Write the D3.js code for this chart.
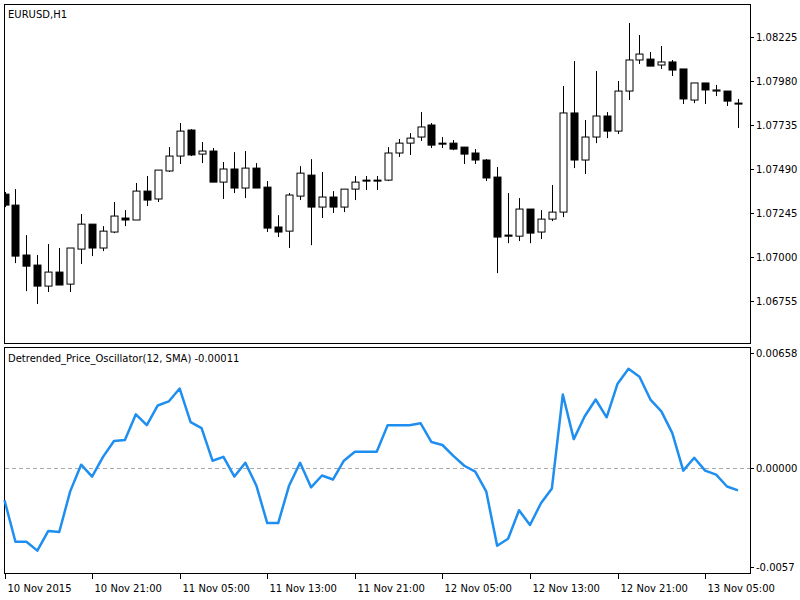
<!DOCTYPE html>
<html>
<head>
<meta charset="utf-8">
<script src="https://cdn.jsdelivr.net/npm/d3@7"></script>
<style>
  body { margin: 0; background: #fff; }
  text { font-family: "DejaVu Sans", sans-serif; font-size: 10px; fill: #000; }
</style>
</head>
<body>
<script>
// EURUSD H1 candles
const opens  = [1.07350,1.07289,1.07011,1.06955,1.06838,1.06916,1.06849,1.07044,1.07183,1.07050,1.07139,1.07217,1.07206,1.07367,1.07323,1.07479,1.07562,1.07707,1.07573,1.07590,1.07417,1.07490,1.07384,1.07495,1.07389,1.07167,1.07144,1.07339,1.07456,1.07278,1.07334,1.07278,1.07378,1.07423,1.07423,1.07428,1.07579,1.07634,1.07668,1.07735,1.07634,1.07634,1.07612,1.07579,1.07540,1.07445,1.07122,1.07116,1.07267,1.07139,1.07211,1.07250,1.07802,1.07540,1.07668,1.07785,1.07701,1.07924,1.08097,1.08102,1.08069,1.08086,1.08047,1.07874,1.07969,1.07924,1.07924,1.07857];
const highs  = [1.07362,1.07378,1.07122,1.07011,1.07072,1.07050,1.07050,1.07239,1.07183,1.07172,1.07306,1.07261,1.07412,1.07451,1.07484,1.07612,1.07746,1.07712,1.07640,1.07607,1.07529,1.07584,1.07590,1.07523,1.07423,1.07233,1.07356,1.07506,1.07545,1.07473,1.07367,1.07378,1.07451,1.07451,1.07451,1.07612,1.07657,1.07690,1.07807,1.07746,1.07668,1.07651,1.07612,1.07601,1.07545,1.07501,1.07356,1.07328,1.07267,1.07261,1.07401,1.07952,1.08091,1.07763,1.08036,1.07807,1.07980,1.08303,1.08236,1.08141,1.08175,1.08097,1.08047,1.07969,1.07969,1.07958,1.07924,1.07880];
const lows   = [1.07278,1.06966,1.06810,1.06738,1.06805,1.06844,1.06805,1.06961,1.07005,1.07033,1.07133,1.07172,1.07206,1.07284,1.07306,1.07473,1.07518,1.07562,1.07523,1.07417,1.07323,1.07356,1.07328,1.07384,1.07139,1.07111,1.07050,1.07317,1.07066,1.07217,1.07245,1.07250,1.07317,1.07373,1.07373,1.07423,1.07557,1.07568,1.07646,1.07607,1.07607,1.07595,1.07518,1.07518,1.07423,1.06910,1.07077,1.07089,1.07077,1.07100,1.07200,1.07222,1.07495,1.07462,1.07634,1.07662,1.07685,1.07874,1.08075,1.08063,1.08047,1.08008,1.07852,1.07857,1.07852,1.07896,1.07841,1.07718];
const closes = [1.07289,1.07005,1.06949,1.06838,1.06916,1.06844,1.07050,1.07183,1.07050,1.07144,1.07228,1.07206,1.07367,1.07317,1.07484,1.07562,1.07701,1.07568,1.07590,1.07417,1.07490,1.07384,1.07495,1.07384,1.07161,1.07139,1.07345,1.07467,1.07278,1.07334,1.07278,1.07378,1.07417,1.07428,1.07428,1.07579,1.07634,1.07662,1.07724,1.07623,1.07629,1.07601,1.07573,1.07540,1.07440,1.07111,1.07116,1.07267,1.07133,1.07211,1.07250,1.07802,1.07540,1.07668,1.07785,1.07701,1.07924,1.08097,1.08130,1.08063,1.08086,1.08041,1.07880,1.07969,1.07930,1.07930,1.07868,1.07854];

// Detrended Price Oscillator (12, SMA)
const dpo = [-0.00187,-0.00425,-0.00425,-0.00476,-0.00363,-0.00369,-0.00136,0.00017,-0.00051,0.00062,0.00153,0.00159,0.00306,0.00244,0.00357,0.00380,0.00454,0.00261,0.00227,0.00040,0.00062,-0.00051,0.00028,-0.00102,-0.00318,-0.00318,-0.00102,0.00028,-0.00113,-0.00045,-0.00068,0.00040,0.00091,0.00091,0.00091,0.00244,0.00244,0.00244,0.00255,0.00147,0.00130,0.00068,0.00011,-0.00023,-0.00136,-0.00448,-0.00408,-0.00244,-0.00329,-0.00204,-0.00119,0.00420,0.00164,0.00295,0.00391,0.00289,0.00482,0.00567,0.00522,0.00391,0.00323,0.00198,-0.00017,0.00057,-0.00017,-0.00040,-0.00108,-0.00130];
const dpoLabel = "Detrended_Price_Oscillator(12, SMA) -0.00011";

const priceTicks = [1.08225,1.07980,1.07735,1.07490,1.07245,1.07000,1.06755];
const dpoTicks = [0.00658,0.00000,-0.0057];
const dpoTickLabels = ["0.00658","0.00000","-0.0057"];
const timeLabels = ["10 Nov 2015","10 Nov 21:00","11 Nov 05:00","11 Nov 13:00","11 Nov 21:00","12 Nov 05:00","12 Nov 13:00","12 Nov 21:00","13 Nov 05:00"];

const width = 800, height = 600;
const left = 4, right = 750;

const svg = d3.select("body").append("svg")
  .attr("width", width).attr("height", height);

const x = d3.scaleLinear().domain([0, 67]).range([4.5, 738]);
const y = d3.scaleLinear().domain([1.06755, 1.08225]).range([301, 37]);
const y2 = d3.scaleLinear().domain([-0.0057, 0.00658]).range([567, 353]);

// frames
svg.append("rect").attr("x", left + 0.5).attr("y", 4.5).attr("width", right - left).attr("height", 339)
  .attr("fill", "none").attr("stroke", "#000");
svg.append("rect").attr("x", left + 0.5).attr("y", 347.5).attr("width", right - left).attr("height", 226)
  .attr("fill", "none").attr("stroke", "#000");

svg.append("clipPath").attr("id", "c1").append("rect")
  .attr("x", left + 1).attr("y", 5).attr("width", right - left - 1).attr("height", 338);

// candles
const idx = d3.range(opens.length);
const g = svg.append("g").attr("clip-path", "url(#c1)");
g.selectAll("line.wick").data(idx).enter().append("line")
  .attr("x1", i => Math.round(x(i)) + 0.5).attr("x2", i => Math.round(x(i)) + 0.5)
  .attr("y1", i => y(highs[i])).attr("y2", i => y(lows[i]))
  .attr("stroke", "#000");
g.selectAll("rect.body").data(idx).enter().append("rect")
  .attr("x", i => Math.round(x(i)) - 3)
  .attr("y", i => Math.min(y(opens[i]), y(closes[i])))
  .attr("width", 7)
  .attr("height", i => Math.max(1, Math.abs(y(opens[i]) - y(closes[i]))))
  .attr("fill", i => closes[i] >= opens[i] ? "#fff" : "#000")
  .attr("stroke", "#000");

// price axis
priceTicks.forEach(p => {
  svg.append("line").attr("x1", right).attr("x2", right + 4)
    .attr("y1", Math.round(y(p)) + 0.5).attr("y2", Math.round(y(p)) + 0.5).attr("stroke", "#000");
  svg.append("text").attr("x", right + 6).attr("y", y(p) + 4).text(p.toFixed(5));
});
svg.append("text").attr("x", 8).attr("y", 18).text("EURUSD,H1");

// indicator
svg.append("line").attr("x1", left + 1).attr("x2", right)
  .attr("y1", Math.round(y2(0)) + 0.5).attr("y2", Math.round(y2(0)) + 0.5)
  .attr("stroke", "#aaa").attr("stroke-dasharray", "4,3");
svg.append("path").datum(dpo)
  .attr("d", d3.line().x((d, i) => x(i)).y(d => y2(d)))
  .attr("fill", "none").attr("stroke", "#1e8ef0").attr("stroke-width", 2.5)
  .attr("stroke-linejoin", "round");
dpoTicks.forEach((v, k) => {
  const yy = y2(v);
  svg.append("line").attr("x1", right).attr("x2", right + 4)
    .attr("y1", Math.round(yy) + 0.5).attr("y2", Math.round(yy) + 0.5).attr("stroke", "#000");
  svg.append("text").attr("x", right + 6).attr("y", yy + 4).text(dpoTickLabels[k]);
});
svg.append("text").attr("x", 8).attr("y", 362).text(dpoLabel);

// time axis
timeLabels.forEach((t, k) => {
  const xx = Math.round(x(k * 8)) + 0.5;
  svg.append("line").attr("x1", xx).attr("x2", xx).attr("y1", 574).attr("y2", 579).attr("stroke", "#000");
  svg.append("text").attr("x", xx + 2).attr("y", 592).text(t);
});
</script>
</body>
</html>
